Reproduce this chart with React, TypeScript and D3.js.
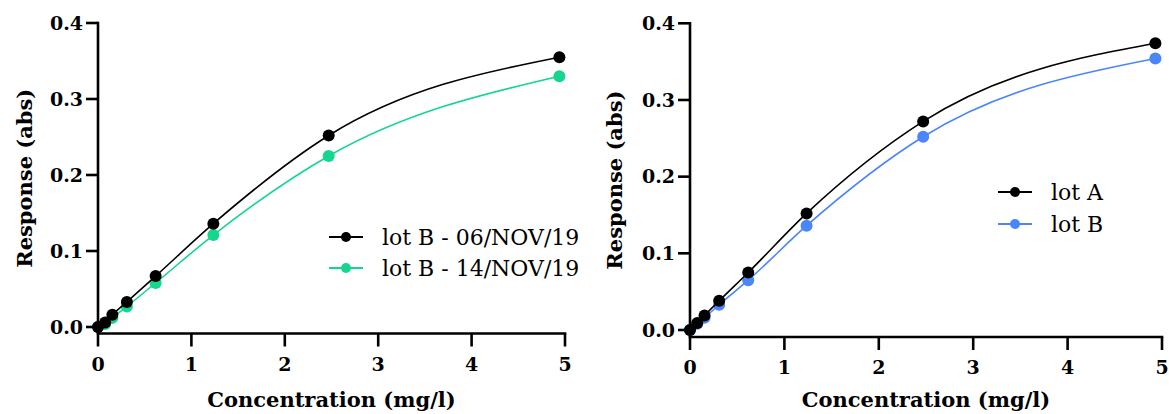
import React from "react";
import * as d3 from "d3";

// ---------- data ----------
const concLeft = [0, 0.077, 0.154, 0.309, 0.617, 1.235, 2.47, 4.94];
const lotB06 = [0, 0.006, 0.016, 0.033, 0.067, 0.136, 0.252, 0.355];
const lotB14 = [0, 0.004, 0.012, 0.027, 0.058, 0.121, 0.225, 0.33];

const concRight = [0, 0.077, 0.154, 0.309, 0.617, 1.235, 2.47, 4.93];
const lotA = [0, 0.009, 0.019, 0.038, 0.075, 0.152, 0.272, 0.374];
const lotBr = [0, 0.008, 0.016, 0.033, 0.065, 0.136, 0.252, 0.354];

const xTicks = [0, 1, 2, 3, 4, 5];
const yTicks = [0, 0.1, 0.2, 0.3, 0.4];

const leftSeries = [
  { name: "lot B - 14/NOV/19", color: "#14D68F", values: lotB14 },
  { name: "lot B - 06/NOV/19", color: "#000000", values: lotB06 },
];
const rightSeries = [
  { name: "lot B", color: "#4A86FA", values: lotBr },
  { name: "lot A", color: "#000000", values: lotA },
];

const FONT = "'DejaVu Serif', serif";
const TITLE_FONT = "'DejaVu Serif', serif";

type Panel = {
  x0: number; x1: number; yTop: number; yZero: number; xAxisY: number;
  conc: number[]; series: { name: string; color: string; values: number[] }[];
  legendX: number; legendY: number; legendGap: number;
  yTitleX: number;
};

function ChartPanel({ p }: { p: Panel }) {
  const x = d3.scaleLinear().domain([0, 5]).range([p.x0, p.x1]);
  const y = d3.scaleLinear().domain([0, 0.4]).range([p.yZero, p.yTop]);
  const line = d3
    .line<[number, number]>()
    .x((d) => x(d[0]))
    .y((d) => y(d[1]))
    .curve(d3.curveMonotoneX);
  const tick = 12;
  const axisW = 2.6;
  const legendOrder = [...p.series].reverse();
  return (
    <g>
      {/* series */}
      {p.series.map((s) => (
        <g key={s.name}>
          <path
            d={line(p.conc.map((c, i) => [c, s.values[i]] as [number, number])) || ""}
            fill="none"
            stroke={s.color}
            strokeWidth={1.6}
          />
          {p.conc.map((c, i) => (
            <circle key={i} cx={x(c)} cy={y(s.values[i])} r={6} fill={s.color} />
          ))}
        </g>
      ))}
      {/* y axis */}
      <line x1={p.x0} x2={p.x0} y1={y(0.4) - axisW / 2} y2={p.xAxisY} stroke="#000" strokeWidth={axisW} />
      {yTicks.map((t) => (
        <g key={t}>
          <line x1={p.x0 - tick} x2={p.x0} y1={y(t)} y2={y(t)} stroke="#000" strokeWidth={axisW} />
          <text
            x={p.x0 - tick - 3}
            y={y(t)}
            dy="0.36em"
            textAnchor="end"
            fontFamily={FONT}
            fontWeight="bold"
            fontSize={19}
          >
            {t.toFixed(1)}
          </text>
        </g>
      ))}
      {/* x axis */}
      <line x1={p.x0 - axisW / 2} x2={p.x1 + axisW / 2} y1={p.xAxisY} y2={p.xAxisY} stroke="#000" strokeWidth={axisW} />
      {xTicks.map((t) => (
        <g key={t}>
          <line x1={x(t)} x2={x(t)} y1={p.xAxisY} y2={p.xAxisY + 13} stroke="#000" strokeWidth={axisW} />
          <text
            x={x(t)}
            y={p.xAxisY + 37}
            textAnchor="middle"
            fontFamily={FONT}
            fontWeight="bold"
            fontSize={19}
          >
            {t}
          </text>
        </g>
      ))}
      {/* titles */}
      <text
        x={(p.x0 + p.x1) / 2}
        y={407}
        textAnchor="middle"
        fontFamily={TITLE_FONT}
        fontWeight="bold"
        fontSize={21}
      >
        Concentration (mg/l)
      </text>
      <text
        transform={`translate(${p.yTitleX},${(y(0.4) + p.xAxisY) / 2}) rotate(-90)`}
        textAnchor="middle"
        fontFamily={TITLE_FONT}
        fontWeight="bold"
        fontSize={21}
      >
        Response (abs)
      </text>
      {/* legend */}
      {legendOrder.map((s, i) => {
        const ly = p.legendY + i * p.legendGap;
        return (
          <g key={s.name}>
            <line x1={p.legendX} x2={p.legendX + 34} y1={ly} y2={ly} stroke={s.color} strokeWidth={2} />
            <circle cx={p.legendX + 17} cy={ly} r={5} fill={s.color} />
            <text x={p.legendX + 53} y={ly + 8} fontFamily={FONT} fontSize={22}>
              {s.name}
            </text>
          </g>
        );
      })}
    </g>
  );
}

export default function App() {
  const left: Panel = {
    x0: 98, x1: 565, yTop: 23, yZero: 327, xAxisY: 333.5,
    conc: concLeft, series: leftSeries,
    legendX: 329, legendY: 237, legendGap: 31, yTitleX: 32,
  };
  const right: Panel = {
    x0: 690, x1: 1162, yTop: 23.3, yZero: 330, xAxisY: 337,
    conc: concRight, series: rightSeries,
    legendX: 998, legendY: 192, legendGap: 32, yTitleX: 622,
  };
  return (
    <svg
      width={1169}
      height={414}
      style={{ position: "absolute", left: 0, top: 0, background: "#fff" }}
    >
      <rect width={1169} height={414} fill="#fff" />
      <ChartPanel p={left} />
      <ChartPanel p={right} />
    </svg>
  );
}
